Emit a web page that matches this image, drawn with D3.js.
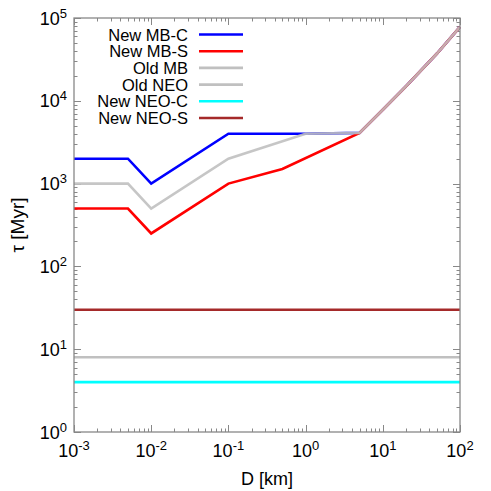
<!DOCTYPE html>
<html>
<head>
<meta charset="utf-8">
<script src="https://cdn.jsdelivr.net/npm/d3@7"></script>
<style>
  body { margin: 0; background: #fff; }
  text { font-family: "Liberation Sans", Arial, sans-serif; }
</style>
</head>
<body>
<div id="chart"></div>
<script>
// series data (D in km, tau in Myr)
var seriesNames = ["New MB-C", "New MB-S", "Old MB", "Old NEO", "New NEO-C", "New NEO-S"];
var seriesColors = ["#0000ff", "#ff0000", "#c0c0c0", "#c0c0c0", "#00ffff", "#a52a2a"];

var mbcD   = [0.001, 0.005, 0.01, 0.1, 1, 5, 10, 20, 50, 100];
var mbcTau = [2000, 2000, 1000, 4000, 4000, 4100, 7800, 15000, 37000, 78000];
var mbsD   = [0.001, 0.005, 0.01, 0.1, 0.5, 5, 10, 20, 50, 100];
var mbsTau = [500, 500, 250, 1000, 1500, 4100, 7800, 15000, 37000, 78000];
var oldMbD   = [0.001, 0.005, 0.01, 0.1, 1, 5, 10, 20, 50, 100];
var oldMbTau = [1000, 1000, 500, 2000, 4000, 4100, 7800, 15000, 37000, 78000];
var oldNeoD   = [0.001, 100];
var oldNeoTau = [8, 8];
var neoCD   = [0.001, 100];
var neoCTau = [4, 4];
var neoSD   = [0.001, 100];
var neoSTau = [30, 30];

var xTicks = [1e-3, 1e-2, 1e-1, 1e0, 1e1, 1e2];
var xTickExp = ["-3", "-2", "-1", "0", "1", "2"];
var yTicks = [1e0, 1e1, 1e2, 1e3, 1e4, 1e5];
var yTickExp = ["0", "1", "2", "3", "4", "5"];

var W = 491, H = 491;
var margin = {left: 74, right: 31, top: 18, bottom: 59};

var svg = d3.select("#chart").append("svg").attr("width", W).attr("height", H);

var x = d3.scaleLog().domain([1e-3, 1e2]).range([margin.left, W - margin.right]);
var y = d3.scaleLog().domain([1, 1e5]).range([H - margin.bottom, margin.top]);

var x0 = x.range()[0], x1 = x.range()[1], y0 = y.range()[0], y1 = y.range()[1];
var axisColor = "#888";

// minor ticks
var xMinor = [], yMinor = [];
for (var e = -3; e < 2; e++) for (var m = 2; m < 10; m++) xMinor.push(m * Math.pow(10, e));
for (var e2 = 0; e2 < 5; e2++) for (var m2 = 2; m2 < 10; m2++) yMinor.push(m2 * Math.pow(10, e2));

var ticks = svg.append("g").attr("stroke", axisColor).attr("stroke-width", 1);
function tickX(vals, len) {
  vals.forEach(function(v) {
    var px = Math.round(x(v)) + 0.5;
    ticks.append("line").attr("x1", px).attr("x2", px).attr("y1", y0).attr("y2", y0 - len);
    ticks.append("line").attr("x1", px).attr("x2", px).attr("y1", y1).attr("y2", y1 + len);
  });
}
function tickY(vals, len) {
  vals.forEach(function(v) {
    var py = Math.round(y(v)) + 0.5;
    ticks.append("line").attr("y1", py).attr("y2", py).attr("x1", x0).attr("x2", x0 + len);
    ticks.append("line").attr("y1", py).attr("y2", py).attr("x1", x1).attr("x2", x1 - len);
  });
}
tickX(xMinor, 3.5);
tickX(xTicks, 7);
tickY(yMinor, 3.5);
tickY(yTicks, 7);

// lines
var line = d3.line().x(function(d) { return x(d[0]); }).y(function(d) { return y(d[1]); });
function zip(a, b) { return a.map(function(v, i) { return [v, b[i]]; }); }
var allSeries = [
  zip(mbcD, mbcTau), zip(mbsD, mbsTau), zip(oldMbD, oldMbTau),
  zip(oldNeoD, oldNeoTau), zip(neoCD, neoCTau), zip(neoSD, neoSTau)
];
allSeries.forEach(function(s, i) {
  svg.append("path").attr("d", line(s)).attr("fill", "none")
    .attr("stroke", seriesColors[i]).attr("stroke-width", 2.6)
    .attr("stroke-opacity", i == 2 ? 0.9 : 1)
    .attr("stroke-linejoin", "miter");
});

// frame
svg.append("rect").attr("x", x0).attr("y", y1).attr("width", x1 - x0).attr("height", y0 - y1)
  .attr("fill", "none").attr("stroke", axisColor).attr("stroke-width", 1.3);

// tick labels
xTicks.forEach(function(v, i) {
  var t = svg.append("text").attr("x", x(v)).attr("y", y0 + 25)
    .attr("text-anchor", "middle").attr("font-size", 18).attr("fill", "#000");
  t.append("tspan").text("10");
  t.append("tspan").attr("dy", -7).attr("font-size", 13).text(xTickExp[i]);
});
yTicks.forEach(function(v, i) {
  var t = svg.append("text").attr("x", x0 - 7).attr("y", y(v) + 6.5)
    .attr("text-anchor", "end").attr("font-size", 18).attr("fill", "#000");
  t.append("tspan").text("10");
  t.append("tspan").attr("dy", -7).attr("font-size", 13).text(yTickExp[i]);
});

// axis titles
svg.append("text").attr("x", (x0 + x1) / 2).attr("y", 485)
  .attr("text-anchor", "middle").attr("font-size", 18).text("D [km]");
svg.append("text").attr("transform", "translate(24," + ((y0 + y1) / 2) + ") rotate(-90)")
  .attr("text-anchor", "middle").attr("font-size", 19).text("τ [Myr]");

// legend
seriesNames.forEach(function(n, i) {
  var ly = 34.5 + i * 16.7;
  svg.append("text").attr("x", 188).attr("y", ly + 6).attr("text-anchor", "end")
    .attr("font-size", 16.5).text(n);
  svg.append("line").attr("x1", 199).attr("x2", 243).attr("y1", ly).attr("y2", ly)
    .attr("stroke", seriesColors[i]).attr("stroke-width", 2.6);
});
</script>
</body>
</html>
